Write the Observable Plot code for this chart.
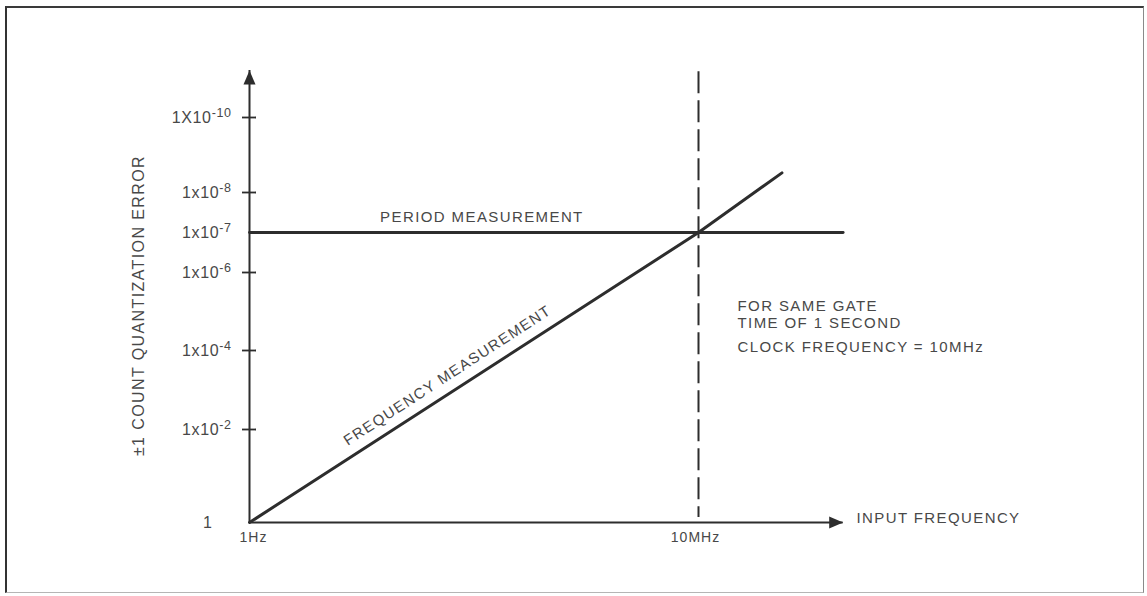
<!DOCTYPE html>
<html>
<head>
<meta charset="utf-8">
<script src="https://cdn.jsdelivr.net/npm/d3@7"></script>
<script src="https://cdn.jsdelivr.net/npm/@observablehq/plot@0.6"></script>
<style>
  html, body { margin: 0; padding: 0; background: #fff; }
  body { width: 1147px; height: 596px; position: relative; overflow: hidden; }
  #chart { position: absolute; left: 0; top: 0; }
  #border {
    position: absolute; left: 5px; top: 6px; width: 1139px; height: 587px;
    box-sizing: border-box;
    border-left: 2px solid #333; border-top: 2px solid #3a3a3a;
    border-right: 1px solid #8a8a8a; border-bottom: 1px solid #b5b5b5;
    pointer-events: none;
  }
</style>
</head>
<body>
<div id="border"></div>
<div id="chart"></div>
<script>
// Quantization error (±1 count) versus input frequency, for a 1 s gate
// and a 10 MHz time-base clock.

// Y axis (error) ticks and their labels; "^" marks the start of an exponent.
const yTicks = [1e-10, 1e-8, 1e-7, 1e-6, 1e-4, 1e-2];
const yTickLabels = ["1X10^-10", "1x10^-8", "1x10^-7", "1x10^-6", "1x10^-4", "1x10^-2"];
const yTickMarks = [1e-10, 1e-8, 1e-6, 1e-4, 1e-2];
const yOrigin = [1];
const yOriginLabel = ["1"];

// X axis (input frequency, Hz) ticks and labels.
const xTicks = [1, 1e7];
const xTickLabels = ["1Hz", "10MHz"];

// Frequency measurement: error falls as 1/f.
const freqInput = [1, 1e7, 2e8];
const freqError = [1, 1e-7, 3e-9];

// Period measurement: error fixed by the 10 MHz clock.
const periodInput = [1, 1.8e9];
const periodError = [1e-7, 1e-7];

// Clock frequency (crossover marker).
const clockFrequency = [1e7];

// Axis extents (arrow tips).
const xAxisEnd = 1.8e9;
const yAxisEnd = 5.6e-12;

const ink = "#2d2d2d";
const textInk = "#484848";

const yLabelOf = new Map(yTicks.map((d, i) => [d, yTickLabels[i]]));

// Filled arrowhead with its tip at the origin, pointing up.
const arrowHead = {
  draw(context) {
    context.moveTo(0, 0);
    context.lineTo(6, 14);
    context.lineTo(-6, 14);
    context.closePath();
  }
};

const freqLine = freqInput.map((f, i) => ({f, e: freqError[i]}));
const periodLine = periodInput.map((f, i) => ({f, e: periodError[i]}));

const chart = Plot.plot({
  width: 1147,
  height: 596,
  marginLeft: 249,
  marginRight: 40,
  marginTop: 88,
  marginBottom: 74,
  style: {
    fontFamily: "'Liberation Sans', Arial, Helvetica, sans-serif",
    fontSize: "15px",
    color: textInk,
    background: "transparent"
  },
  x: {type: "log", domain: [1, 1e7], range: [249, 698]},
  // hand-spaced decades on the error axis (piecewise log scale)
  y: {
    type: "log",
    domain: [1, 1e-2, 1e-4, 1e-6, 1e-7, 1e-8, 1e-10],
    range: [522, 429, 350, 272, 232, 192, 117]
  },
  marks: [
    // clock-frequency marker
    Plot.ruleX(clockFrequency, {x: d => d, y1: 6e-12, y2: 0.78, stroke: ink, strokeWidth: 2, strokeDasharray: "22,7"}),

    // axes with arrowheads
    Plot.ruleX([1], {x: d => d, y1: 1, y2: yAxisEnd, stroke: ink, strokeWidth: 2}),
    Plot.ruleY([1], {y: d => d, x1: 1, x2: xAxisEnd, stroke: ink, strokeWidth: 2}),
    Plot.dot([{x: 1, y: yAxisEnd}], {x: "x", y: "y", symbol: arrowHead, fill: ink, stroke: "none", rotate: 0}),
    Plot.dot([{x: xAxisEnd, y: 1}], {x: "x", y: "y", symbol: arrowHead, fill: ink, stroke: "none", rotate: 90}),

    // tick marks crossing the error axis
    Plot.ruleY(yTickMarks, {y: d => d, x1: 1, x2: 1, insetLeft: -7, insetRight: -7, stroke: ink, strokeWidth: 1.8}),

    // tick labels
    Plot.axisY(yTicks, {tickSize: 0, tickPadding: 18, tickFormat: d => yLabelOf.get(d), label: null, fontSize: 16}),
    Plot.axisY(yOrigin, {tickSize: 0, tickPadding: 37, tickFormat: () => yOriginLabel[0], label: null, fontSize: 16}),
    Plot.axisX([xTicks[0]], {tickSize: 0, tickPadding: 10, tickFormat: () => xTickLabels[0], label: null, fontSize: 14, dx: 4}),
    Plot.axisX([xTicks[1]], {tickSize: 0, tickPadding: 10, tickFormat: () => xTickLabels[1], label: null, fontSize: 14, dx: -3}),

    // the two measurement curves
    Plot.line(periodLine, {x: "f", y: "e", stroke: ink, strokeWidth: 2.8}),
    Plot.line(freqLine, {x: "f", y: "e", stroke: ink, strokeWidth: 3}),

    // curve labels and notes
    Plot.text(["PERIOD MEASUREMENT"], {text: d => d, x: 4200, y: 1e-7, dy: -15, fontSize: 15}),
    Plot.text(["FREQUENCY MEASUREMENT"], {text: d => d, x: 1220, y: 4.3e-4, rotate: -33, fontSize: 15}),
    Plot.text(["FOR SAME GATE\nTIME OF 1 SECOND"], {text: d => d, x: 4.06e7, y: 1.15e-5, textAnchor: "start", lineHeight: 1.13, fontSize: 15}),
    Plot.text(["CLOCK FREQUENCY = 10MHz"], {text: d => d, x: 4.06e7, y: 8.4e-5, textAnchor: "start", fontSize: 15}),
    Plot.text(["INPUT FREQUENCY"], {text: d => d, x: 2.9e9, y: 1, dy: -4, textAnchor: "start", fontSize: 15}),

    // vertical axis title
    Plot.text(["±1 COUNT QUANTIZATION ERROR"], {text: d => d, frameAnchor: "left", textAnchor: "middle", dx: -111, rotate: -90, fontSize: 16})
  ]
});

const svg = d3.select(chart);

// Render exponents as raised, smaller text.
svg.selectAll('g[aria-label="y-axis tick label"] text').each(function () {
  const t = this.textContent;
  const k = t.indexOf("^");
  if (k < 0) return;
  const sel = d3.select(this);
  sel.text(t.slice(0, k));
  sel.append("tspan").attr("dy", "-0.48em").attr("font-size", "12.5px").text(t.slice(k + 1));
});

// Widen the lettering of the typeset labels.
svg.selectAll('g[aria-label="y-axis tick label"] text').style("letter-spacing", "0.6px");
svg.selectAll('g[aria-label="x-axis tick label"] text').style("letter-spacing", "1px");
svg.selectAll('g[aria-label="text"] text').style("letter-spacing", "1.4px");

document.getElementById("chart").append(chart);
</script>
</body>
</html>
